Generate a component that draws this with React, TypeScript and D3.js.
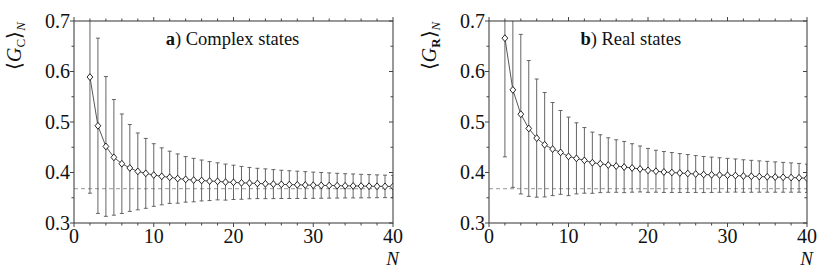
import React from 'react';
import * as d3 from 'd3';

const nValues = [2, 3, 4, 5, 6, 7, 8, 9, 10, 11, 12, 13, 14, 15, 16, 17, 18, 19, 20, 21, 22, 23, 24, 25, 26, 27, 28, 29, 30, 31, 32, 33, 34, 35, 36, 37, 38, 39, 40];

const complexMean = [0.589, 0.4925, 0.4516, 0.430, 0.4174, 0.409, 0.4022, 0.3983, 0.395, 0.3924, 0.3905, 0.388, 0.3864, 0.385, 0.3842, 0.383, 0.3825, 0.381, 0.3805, 0.3795, 0.379, 0.3783, 0.3777, 0.377, 0.3765, 0.376, 0.3756, 0.3752, 0.3748, 0.3745, 0.3742, 0.3739, 0.3736, 0.3734, 0.3731, 0.3729, 0.3727, 0.3725, 0.3723];
const complexSigma = [0.230, 0.1735, 0.1384, 0.1145, 0.0985, 0.086, 0.0761, 0.0692, 0.062, 0.0564, 0.0517, 0.0488, 0.0451, 0.043, 0.0405, 0.0386, 0.0367, 0.0357, 0.034, 0.0325, 0.031, 0.030, 0.0295, 0.0287, 0.028, 0.0275, 0.027, 0.0265, 0.026, 0.0255, 0.025, 0.0245, 0.024, 0.0237, 0.0233, 0.023, 0.0226, 0.0222, 0.022];

const realMean = [0.666, 0.5636, 0.5155, 0.4872, 0.4681, 0.455, 0.4464, 0.4398, 0.4319, 0.428, 0.424, 0.4194, 0.4174, 0.4148, 0.4128, 0.4108, 0.409, 0.407, 0.4042, 0.4025, 0.401, 0.400, 0.399, 0.398, 0.397, 0.396, 0.3955, 0.395, 0.3945, 0.394, 0.393, 0.3925, 0.392, 0.3915, 0.391, 0.3905, 0.390, 0.3895, 0.3885];
const realSigma = [0.235, 0.193, 0.158, 0.1345, 0.117, 0.1034, 0.0922, 0.083, 0.0777, 0.0704, 0.065, 0.0606, 0.0573, 0.054, 0.052, 0.0507, 0.048, 0.0455, 0.0435, 0.0415, 0.0405, 0.0395, 0.0385, 0.0375, 0.0365, 0.0357, 0.035, 0.0342, 0.0335, 0.0328, 0.0322, 0.0316, 0.031, 0.0305, 0.030, 0.0295, 0.029, 0.0285, 0.028];

const xMajorTicks = [0, 10, 20, 30, 40];
const xMinorTicks = [2, 4, 6, 8, 12, 14, 16, 18, 22, 24, 26, 28, 32, 34, 36, 38];
const yMajorTicks = [0.3, 0.4, 0.5, 0.6, 0.7];
const yMinorTicks = [0.35, 0.45, 0.55, 0.65];
const limitValue = 0.3679;

const TXT = { fontFamily: 'Liberation Serif' };
const TOP = 21;
const BOTTOM = 223;

type PanelProps = {
  id: string;
  left: number;
  right: number;
  means: number[];
  sigmas: number[];
  tag: string;
  title: string;
  sub: string;
  subBold: boolean;
};

function Panel({ id, left, right, means, sigmas, tag, title, sub, subBold }: PanelProps) {
  const x = d3.scaleLinear().domain([0, 40]).range([left, right]);
  const y = d3.scaleLinear().domain([0.3, 0.7]).range([BOTTOM, TOP]);
  const line = d3
    .line<number>()
    .x((_, i) => x(nValues[i]))
    .y((d) => y(d));
  const stroke = '#333';
  const tickCol = '#444';
  const cap = 2;
  const diamond = 3.4;
  return (
    <g>
      <defs>
        <clipPath id={`clip-${id}`}>
          <rect x={left} y={TOP} width={right - left} height={BOTTOM - TOP} />
        </clipPath>
      </defs>
      <line
        x1={left}
        x2={right}
        y1={y(limitValue)}
        y2={y(limitValue)}
        stroke="#999"
        strokeWidth={1}
        strokeDasharray="4,3"
      />
      <g clipPath={`url(#clip-${id})`}>
        {nValues.map((n, i) => {
          const xi = x(n);
          const lo = y(means[i] - sigmas[i]);
          const hi = y(means[i] + sigmas[i]);
          return (
            <g key={n} stroke="#555" strokeWidth={0.9}>
              <line x1={xi} x2={xi} y1={lo} y2={hi} />
              <line x1={xi - cap} x2={xi + cap} y1={lo} y2={lo} />
              <line x1={xi - cap} x2={xi + cap} y1={hi} y2={hi} />
            </g>
          );
        })}
        <path d={line(means) || ''} fill="none" stroke="#444" strokeWidth={0.9} />
        {nValues.map((n, i) => {
          const xi = x(n);
          const yi = y(means[i]);
          return (
            <path
              key={n}
              d={`M${xi},${yi - diamond}L${xi + diamond * 0.85},${yi}L${xi},${yi + diamond}L${xi - diamond * 0.85},${yi}Z`}
              fill="#fff"
              stroke="#111"
              strokeWidth={0.9}
            />
          );
        })}
      </g>
      <rect x={left} y={TOP} width={right - left} height={BOTTOM - TOP} fill="none" stroke={stroke} strokeWidth={1} />
      <g stroke={tickCol} strokeWidth={1}>
        {xMajorTicks.map((t) => (
          <g key={`xM${t}`}>
            <line x1={x(t)} x2={x(t)} y1={BOTTOM} y2={BOTTOM + 4} />
            <line x1={x(t)} x2={x(t)} y1={TOP} y2={TOP - 4} />
          </g>
        ))}
        {xMinorTicks.map((t) => (
          <g key={`xm${t}`}>
            <line x1={x(t)} x2={x(t)} y1={BOTTOM} y2={BOTTOM + 2.5} />
            <line x1={x(t)} x2={x(t)} y1={TOP} y2={TOP - 2.5} />
          </g>
        ))}
        {yMajorTicks.map((t) => (
          <g key={`yM${t}`}>
            <line x1={left} x2={left - 4} y1={y(t)} y2={y(t)} />
            <line x1={right} x2={right - 4} y1={y(t)} y2={y(t)} />
          </g>
        ))}
        {yMinorTicks.map((t) => (
          <g key={`ym${t}`}>
            <line x1={left} x2={left - 2.5} y1={y(t)} y2={y(t)} />
            <line x1={right} x2={right - 2.5} y1={y(t)} y2={y(t)} />
          </g>
        ))}
      </g>
      <g fill="#111">
        {yMajorTicks.map((t) => (
          <text key={`yl${t}`} x={left - 4} y={y(t) + 6.5} textAnchor="end" fontSize={20} style={TXT}>
            {d3.format('.1f')(t)}
          </text>
        ))}
        {xMajorTicks.map((t) => (
          <text key={`xl${t}`} x={x(t)} y={243} textAnchor="middle" fontSize={20} style={TXT}>
            {t}
          </text>
        ))}
        <text x={right + 6} y={265} textAnchor="end" fontStyle="italic" fontSize={19} style={TXT}>
          N
        </text>
        <text x={x(11.5)} y={45} fontSize={18.5} style={TXT}>
          <tspan fontWeight="bold">{tag}</tspan>
          <tspan>{') ' + title}</tspan>
        </text>
        <text
          transform={`translate(${left - 53},${46}) rotate(-90)`}
          textAnchor="middle"
          fontSize={20}
          style={TXT}
        >
          <tspan>⟨</tspan>
          <tspan fontStyle="italic">G</tspan>
          <tspan fontSize={13} dy={4} fontWeight={subBold ? 'bold' : 'normal'}>
            {sub}
          </tspan>
          <tspan dy={-4}>⟩</tspan>
          <tspan fontSize={13} dy={4} fontStyle="italic">
            N
          </tspan>
        </text>
      </g>
    </g>
  );
}

export default function App() {
  return (
    <svg
      width={830}
      height={276}
      viewBox="0 0 830 276"
      style={{ position: 'absolute', left: 0, top: 0, background: '#fff' }}
    >
      <rect x={0} y={0} width={830} height={276} fill="#fff" />
      <Panel
        id="a"
        left={74}
        right={393}
        means={complexMean}
        sigmas={complexSigma}
        tag="a"
        title="Complex states"
        sub="C"
        subBold={false}
      />
      <Panel
        id="b"
        left={489}
        right={807}
        means={realMean}
        sigmas={realSigma}
        tag="b"
        title="Real states"
        sub="R"
        subBold={true}
      />
    </svg>
  );
}
